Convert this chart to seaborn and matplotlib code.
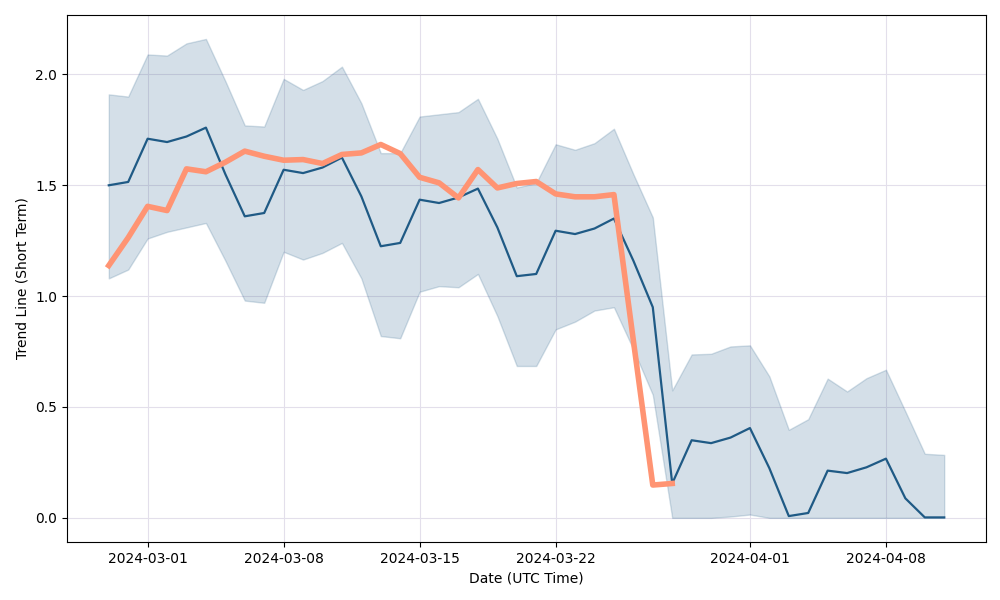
import pandas as pd
import seaborn as sns
import matplotlib.pyplot as plt

# daily values
dates = pd.date_range('2024-02-28', '2024-04-11', freq='D')

trend = [1.50, 1.515, 1.71, 1.695, 1.72, 1.76, 1.55, 1.36, 1.375, 1.57,
         1.555, 1.58, 1.625, 1.45, 1.225, 1.24, 1.435, 1.42, 1.445, 1.485,
         1.31, 1.09, 1.10, 1.295, 1.28, 1.305, 1.35, 1.16, 0.95, 0.155,
         0.35, 0.337, 0.362, 0.405, 0.224, 0.008, 0.022, 0.213, 0.202, 0.228,
         0.267, 0.088, 0.002, 0.002]

upper = [1.91, 1.90, 2.09, 2.085, 2.14, 2.16, 1.97, 1.77, 1.765, 1.98,
         1.93, 1.97, 2.035, 1.87, 1.645, 1.645, 1.81, 1.82, 1.83, 1.89,
         1.71, 1.49, 1.51, 1.685, 1.66, 1.69, 1.755, 1.55, 1.355, 0.575,
         0.737, 0.74, 0.773, 0.778, 0.638, 0.397, 0.445, 0.628, 0.57, 0.63,
         0.668, 0.48, 0.289, 0.284]

lower = [1.08, 1.12, 1.26, 1.29, 1.31, 1.33, 1.16, 0.98, 0.97, 1.20,
         1.165, 1.195, 1.24, 1.08, 0.82, 0.81, 1.02, 1.045, 1.04, 1.10,
         0.91, 0.685, 0.685, 0.85, 0.885, 0.935, 0.95, 0.76, 0.555, 0.0,
         0.0, 0.0, 0.006, 0.015, 0.0, 0.0, 0.0, 0.0, 0.0, 0.0,
         0.0, 0.0, 0.0, 0.0]

# long-run line, only until 2024-03-28
long_trend = [1.138, 1.264, 1.405, 1.386, 1.574, 1.561, 1.604, 1.654, 1.631, 1.613,
              1.616, 1.598, 1.639, 1.646, 1.684, 1.643, 1.536, 1.511, 1.443, 1.571,
              1.488, 1.508, 1.517, 1.461, 1.448, 1.448, 1.458, 0.80, 0.148, 0.155]

df = pd.DataFrame({'date': dates, 'trend': trend, 'upper': upper, 'lower': lower})
df_long = pd.DataFrame({'date': dates[:len(long_trend)], 'long': long_trend})

fig, ax = plt.subplots(figsize=(10, 6), dpi=100)
ax.fill_between(df['date'], df['lower'], df['upper'], color='#1f5a85', alpha=0.19, zorder=2)
sns.lineplot(data=df, x='date', y='trend', ax=ax, color='#1f5a85', linewidth=1.6, zorder=3)
sns.lineplot(data=df_long, x='date', y='long', ax=ax, color='#ff9473', linewidth=4, zorder=4)

ax.grid(True, color='#e3dfeb', linewidth=0.8, zorder=0)
ax.set_axisbelow(True)
ax.set_xlabel('Date (UTC Time)')
ax.set_ylabel('Trend Line (Short Term)')
ax.set_yticks([0.0, 0.5, 1.0, 1.5, 2.0])

fig.subplots_adjust(left=0.067, right=0.986, top=0.975, bottom=0.097)
fig.savefig('out.png', dpi=100)
